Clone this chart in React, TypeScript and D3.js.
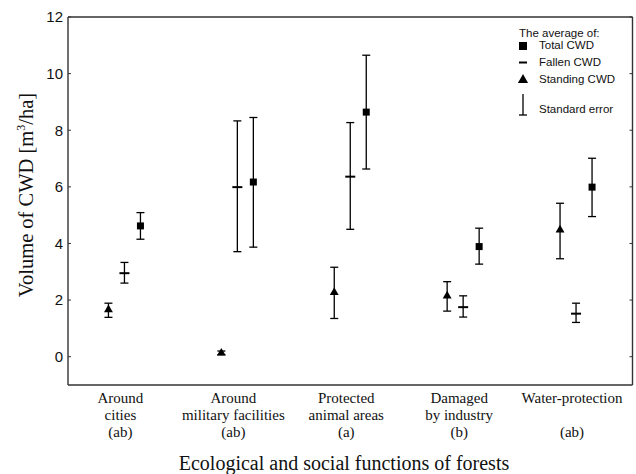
import React from "react";
import * as d3 from "d3";

const categories = [
  ["Around", "cities", "(ab)"],
  ["Around", "military facilities", "(ab)"],
  ["Protected", "animal areas", "(a)"],
  ["Damaged", "by industry", "(b)"],
  ["Water-protection", "", "(ab)"],
];

// [mean, lower, upper]
const standing = [
  [1.66, 1.39, 1.89],
  [0.13, 0.07, 0.2],
  [2.27, 1.35, 3.16],
  [2.15, 1.61, 2.65],
  [4.48, 3.46, 5.42],
];
const fallen = [
  [2.95, 2.6, 3.33],
  [5.99, 3.71, 8.33],
  [6.36, 4.5, 8.27],
  [1.75, 1.4, 2.15],
  [1.52, 1.21, 1.89],
];
const total = [
  [4.62, 4.15, 5.09],
  [6.17, 3.87, 8.45],
  [8.64, 6.63, 10.65],
  [3.89, 3.27, 4.54],
  [5.99, 4.95, 7.01],
];
const yTicks = [0, 2, 4, 6, 8, 10, 12];

const L = 68, R = 632.5, T = 17, B = 385;

export default function App() {
  const x = d3.scalePoint<number>().domain(d3.range(categories.length)).range([L, R]).padding(0.5);
  const y = d3.scaleLinear().domain([-1, 12]).range([B, T]);
  const tri = d3.symbol().type(d3.symbolTriangle).size(34)();
  const frame = "#333";
  const sw = 1.3;
  const cap = 4;

  const errBar = (cx: number, lo: number, hi: number, key: string) => (
    <g key={key} stroke="#000" strokeWidth={sw} fill="none">
      <line x1={cx} x2={cx} y1={y(lo)} y2={y(hi)} />
      <line x1={cx - cap} x2={cx + cap} y1={y(lo)} y2={y(lo)} />
      <line x1={cx - cap} x2={cx + cap} y1={y(hi)} y2={y(hi)} />
    </g>
  );

  return (
    <svg width={636} height={474} style={{ position: "absolute", left: 0, top: 0, background: "#fff" }}>
      {/* frame */}
      <g stroke={frame} strokeWidth={1.4}>
        <line x1={L} x2={R} y1={T} y2={T} />
        <line x1={L} x2={R} y1={B} y2={B} />
        <line x1={L} x2={L} y1={T} y2={B} />
        <line x1={R} x2={R} y1={T} y2={B} />
      </g>
      {yTicks.map((t) => (
        <g key={t}>
          <line x1={L} x2={L + 3} y1={y(t)} y2={y(t)} stroke={frame} strokeWidth={1} />
          <line x1={R - 3} x2={R} y1={y(t)} y2={y(t)} stroke={frame} strokeWidth={1} />
          <text x={L - 5} y={y(t)} dy="0.36em" textAnchor="end" fontFamily="Liberation Sans, Arial, sans-serif" fontSize={15} fill="#111">
            {t}
          </text>
        </g>
      ))}

      {/* data */}
      {categories.map((_, i) => {
        const cx = x(i) as number;
        const xs = cx - 16, xf = cx, xt = cx + 16;
        const s = standing[i], f = fallen[i], tt = total[i];
        return (
          <g key={i}>
            {errBar(xs, s[1], s[2], "s")}
            <path d={tri as string} transform={`translate(${xs},${y(s[0])})`} fill="#000" />
            {errBar(xf, f[1], f[2], "f")}
            <line x1={xf - 5} x2={xf + 5} y1={y(f[0])} y2={y(f[0])} stroke="#000" strokeWidth={2} />
            {errBar(xt, tt[1], tt[2], "t")}
            <rect x={xt - 3.5} y={y(tt[0]) - 3.5} width={7} height={7} fill="#000" />
          </g>
        );
      })}

      {/* category labels */}
      {categories.map((lines, i) => (
        <text key={i} textAnchor="middle" fontFamily="Liberation Serif, Times New Roman, serif" fontSize={15} fill="#111">
          {lines.map((ln, j) => (
            <tspan key={j} x={(x(i) as number) - 4} y={403 + j * 17}>
              {ln}
            </tspan>
          ))}
        </text>
      ))}

      {/* axis titles */}
      <text x={344} y={470} textAnchor="middle" fontFamily="Liberation Serif, Times New Roman, serif" fontSize={20} fill="#111">
        Ecological and social functions of forests
      </text>
      <text transform="translate(33,195) rotate(-90)" textAnchor="middle" fontFamily="Liberation Serif, Times New Roman, serif" fontSize={20.5} fill="#111">
        Volume of CWD [m<tspan dy="-8" fontSize={12}>3</tspan><tspan dy="8">/ha]</tspan>
      </text>

      {/* legend */}
      <g fontFamily="Liberation Sans, Arial, sans-serif" fontSize={11.5} fill="#111">
        <text x={519} y={37}>The average of:</text>
        <rect x={519} y={42} width={8} height={8} fill="#000" />
        <text x={539} y={49}>Total CWD</text>
        <line x1={519} x2={527} y1={62.5} y2={62.5} stroke="#000" strokeWidth={2} />
        <text x={539} y={66}>Fallen CWD</text>
        <path d={d3.symbol().type(d3.symbolTriangle).size(45)() as string} transform="translate(523,80)" fill="#000" />
        <text x={539} y={83}>Standing CWD</text>
        <line x1={523} x2={523} y1={94} y2={115} stroke="#000" strokeWidth={sw} />
        <line x1={519} x2={527} y1={115} y2={115} stroke="#000" strokeWidth={sw} />
        <text x={539} y={113}>Standard error</text>
      </g>
    </svg>
  );
}
